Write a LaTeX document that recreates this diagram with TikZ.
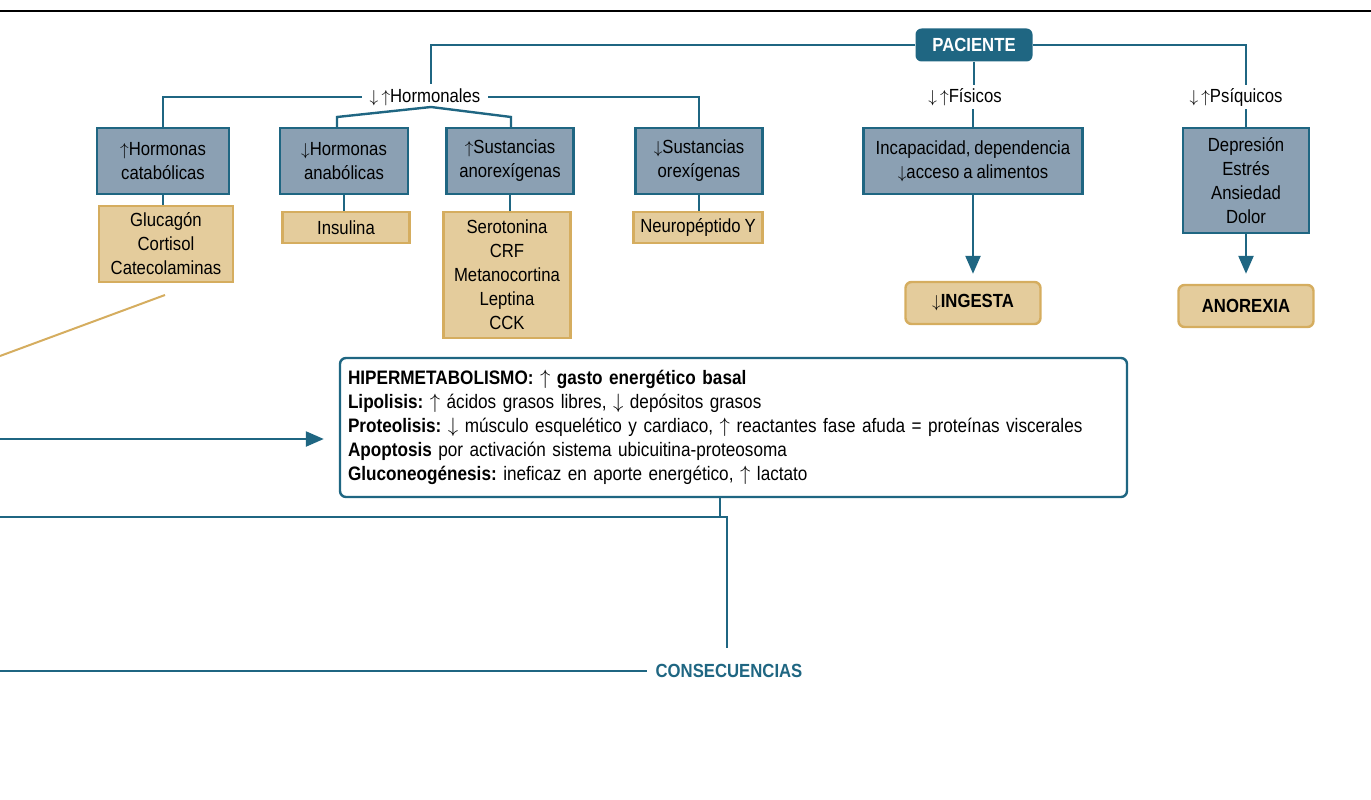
\documentclass[tikz,border=0pt]{standalone}
\usepackage{fontspec}
\setmainfont{Liberation Sans}[FakeStretch=0.88,WordSpace=0.85]
\usepackage{tikz}
\usetikzlibrary{arrows.meta}
\definecolor{pacteal}{RGB}{31,102,130}
\definecolor{boxblue}{RGB}{139,160,179}
\definecolor{tanfill}{RGB}{228,204,156}
\definecolor{tanedge}{RGB}{213,173,95}
\newcommand\upar{$\uparrow$}
\newcommand\dnar{$\downarrow$}
\frenchspacing

\begin{document}
\begin{tikzpicture}[x=1pt,y=-1pt,
  every node/.style={font=\fontsize{19}{24}\selectfont,align=center,inner sep=0pt},
  conn/.style={draw=pacteal,line width=2.4pt},
  arr/.style={conn,-{Triangle[length=18pt,width=15pt]}},
  bluebox/.style={draw=pacteal,fill=boxblue,line width=2.4pt,minimum height=66pt},
  tanbox/.style={draw=tanedge,fill=tanfill,line width=2.4pt},
  endbox/.style={tanbox,rounded corners=6pt,minimum width=135pt,minimum height=42pt,font=\fontsize{19}{24}\selectfont\bfseries},
  lbl/.style={inner xsep=8pt,inner ysep=3pt},
  hipbox/.style={draw=pacteal,line width=2.4pt,rounded corners=6pt,fill=white,align=left,
    text width=771pt,minimum height=139pt,inner xsep=8pt,font=\fontsize{19.5}{24}\selectfont}
]
\useasboundingbox (0,0) rectangle (1371,800);
\coordinate (k0) at (0,11);
\coordinate (k1) at (1371,11);
\draw[line width=1.5pt] (k0) -- (k1);

\node[fill=pacteal,text=white,rounded corners=6pt,minimum width=117pt,minimum height=33pt,
  font=\fontsize{19}{24}\selectfont\bfseries] (pac) at (974,45) {PACIENTE};
\node[lbl] (horm) at (425,97) {\dnar\,\upar Hormonales};
\node[lbl] (fis) at (965,97) {\dnar\,\upar Físicos};
\node[lbl] (psi) at (1236,97) {\dnar\,\upar Psíquicos};

\node[bluebox,minimum width=132pt] (cat) at (163,161) {\upar Hormonas\\catabólicas};
\node[bluebox,minimum width=128pt] (ana) at (344,161) {\dnar Hormonas\\anabólicas};
\node[bluebox,minimum width=127pt] (anx) at (510,161) {\upar Sustancias\\anorexígenas};
\node[bluebox,minimum width=127pt] (orx) at (699,161) {\dnar Sustancias\\orexígenas};
\node[bluebox,minimum width=219pt] (inc) at (973,161) {Incapacidad, dependencia\\\dnar acceso a alimentos};
\node[bluebox,minimum width=126pt,minimum height=105pt] (psq) at (1246,180.5) {Depresión\\Estrés\\Ansiedad\\Dolor};

\node[tanbox,minimum width=134pt,minimum height=76pt] (glu) at (166,244) {Glucagón\\Cortisol\\Catecolaminas};
\node[tanbox,minimum width=127pt,minimum height=31pt] (ins) at (346,227.5) {Insulina};
\node[tanbox,minimum width=127pt,minimum height=126pt] (ser) at (507,275) {Serotonina\\CRF\\Metanocortina\\Leptina\\CCK};
\node[tanbox,minimum width=129pt,minimum height=31pt] (npy) at (698,227.5) {Neuropéptido Y};
\node[endbox] (ing) at (973,303) {\dnar INGESTA};
\node[endbox] (ano) at (1246,306) {ANOREXIA};

\node[hipbox] (hip) at (733.5,427.5) {\textbf{HIPERMETABOLISMO: \upar\ gasto energético basal}\\
  \textbf{Lipolisis:} \upar\ ácidos grasos libres, \dnar\ depósitos grasos\\
  \textbf{Proteolisis:} \dnar\ músculo esquelético y cardiaco, \upar\ reactantes fase afuda = proteínas viscerales\\
  \textbf{Apoptosis} por activación sistema ubicuitina-proteosoma\\
  \textbf{Gluconeogénesis:} ineficaz en aporte energético, \upar\ lactato};
\node[lbl,text=pacteal,font=\fontsize{19}{24}\selectfont\bfseries] (cons) at (729,671) {CONSECUENCIAS};

% ramas desde el paciente
\coordinate (hormtop) at (431,84);
\coordinate (psitop) at (1246,85);
\draw[conn] (pac.west) -| (hormtop);
\draw[conn] (pac.east) -| (psitop);
\draw[conn] (pac.south) -- (pac.south |- fis.north);
\draw[conn] (inc.north) -- (inc.north |- fis.south);
\draw[conn] (psq.north) -- (psq.north |- psi.south);

\draw[conn] (horm.west) -| (cat.north);
\draw[conn] (horm.east) -| (orx.north);
\coordinate (peak) at (431,107);
\coordinate (tl) at (337,117);
\coordinate (tr) at (511,117);
\draw[conn] (tl |- ana.north) -- (tl) -- (peak) -- (tr) -- (tr |- anx.north);

\draw[conn] (cat.south) -- (cat.south |- glu.north);
\draw[conn] (ana.south) -- (ana.south |- ins.north);
\draw[conn] (anx.south) -- (anx.south |- ser.north);
\draw[conn] (orx.south) -- (orx.south |- npy.north);
\draw[arr,shorten >=7pt] (inc.south) -- (ing.north);
\draw[arr,shorten >=10pt] (psq.south) -- (ano.north);

% lineas hacia la izquierda
\coordinate (d0) at (0,356);
\coordinate (d1) at (165,295);
\draw[draw=tanedge,line width=2pt] (d1) -- (d0);
\coordinate (a0) at (0,439);
\draw[arr,shorten >=15pt] (a0) -- (hip.west |- a0);
\coordinate (c0) at (0,517);
\coordinate (c1) at (720,517);
\coordinate (c2) at (727,517);
\coordinate (c3) at (727,648);
\draw[conn] (c1 |- hip.south) -- (c1);
\draw[conn] (c0) -- (c2) -- (c3);
\coordinate (b0) at (0,671);
\draw[conn] (b0) -- (cons.west);
\end{tikzpicture}
\end{document}
